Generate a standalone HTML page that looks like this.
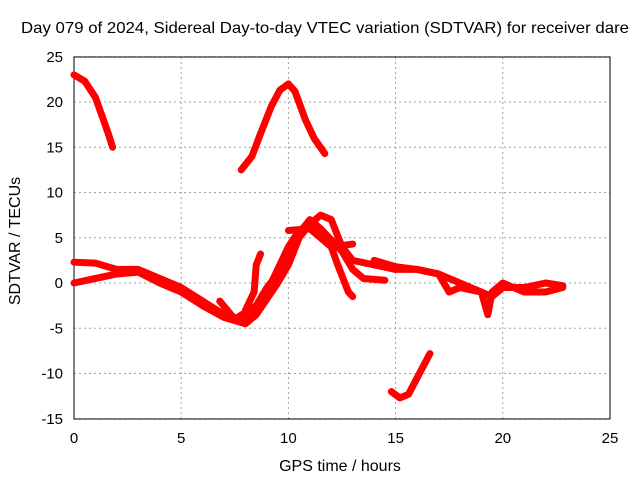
<!DOCTYPE html>
<html><head><meta charset="utf-8"><style>
body{margin:0;background:#fff;}
svg{display:block;font-family:"Liberation Sans",sans-serif;}
</style></head><body>
<svg id="c" width="640" height="480"></svg>
<script>
const xTicks=[0,5,10,15,20,25];
const yTicks=[-15,-10,-5,0,5,10,15,20,25];
const s1h=[0,0.5,1,1.3,1.6,1.8];
const s1v=[23,22.3,20.5,18.5,16.5,15];
const s2h=[7.8,8.3,8.7,9.2,9.6,10,10.3,10.8,11.2,11.7];
const s2v=[12.5,14,16.5,19.5,21.3,22,21.2,18,16,14.3];
const s3h=[14.8,15.2,15.6,16,16.6];
const s3v=[-12,-12.7,-12.3,-10.5,-7.8];
const sAh=[0,1,2,3,4,5,6,7,7.8,8.3,9,9.5,10,10.5,11,11.5,12,12.5,13,14,15,16,17,18,19,19.5,20,21,22,22.8];
const sAv=[2.3,2.2,1.5,1.5,0.5,-0.5,-2,-3.5,-4,-3.5,-1,1.5,4,5.8,6.5,7.5,7,4,2.5,2,1.5,1.5,1,0,-1,-1.5,-0.5,-0.5,0,-0.3];
const sBh=[0,1,2,3,4,5,6,7,8,8.5,9.5,10,10.5,11,11.5,12,12.3,12.8,13];
const sBv=[0,0.5,1,1.2,0,-1,-2.5,-3.8,-4.5,-3.5,0,2,5,6.5,5,4,2,-1,-1.5];
const sCh=[6.8,7.5,8.5,9,9.5,10.5,11,11.5,12.5,13,13.5,14.5];
const sCv=[-2,-4,-2.5,-0.5,1,5.5,7,6,3.5,1.5,0.5,0.3];
const sDh=[8,8.4,8.5,8.7];
const sDv=[-3,-1,2,3.2];
const sEh=[10,11,11.5,12,13];
const sEv=[5.8,6,5,4,4.3];
const sFh=[14,15,16,17,17.5,18,19,19.3,19.5,20,21,22,22.8];
const sFv=[2.5,1.8,1.5,1,-1,-0.5,-1,-3.5,-1,0,-1,-1,-0.5];
const X=h=>74+h*(536/25);
const Y=v=>283-v*(362/40);
const svg=document.getElementById('c');
const NS='http://www.w3.org/2000/svg';
function el(t,a,p){const e=document.createElementNS(NS,t);for(const k in a)e.setAttribute(k,a[k]);(p||svg).appendChild(e);return e;}
function txt(s,a){const e=el('text',a);e.textContent=s;return e;}
xTicks.forEach(t=>{const g=el('line',{x1:X(t),x2:X(t),y1:57,y2:419,stroke:'#a0a0a0','stroke-dasharray':'2,3'});


const l=txt(t,{x:X(t),y:443,'text-anchor':'middle','font-size':15});

});
yTicks.forEach(t=>{const g=el('line',{x1:74,x2:610,y1:Y(t),y2:Y(t),stroke:'#a0a0a0','stroke-dasharray':'2,3'});


const l=txt(t,{x:63,y:Y(t)+5,'text-anchor':'end','font-size':15});

});
const fr=el('rect',{x:74,y:57,width:536,height:362,fill:'none',stroke:'#000'});


const series=[[s1h,s1v],[s2h,s2v],[s3h,s3v],[sAh,sAv],[sBh,sBv],[sCh,sCv],[sDh,sDv],[sEh,sEv],[sFh,sFv]];
series.forEach((s,i)=>{const pts=s[0].map((h,j)=>X(h)+','+Y(s[1][j])).join(' ');
const p=el('polyline',{points:pts,fill:'none',stroke:'#ff0000','stroke-width':7,'stroke-linejoin':'round','stroke-linecap':'round'});

});
const t=txt('Day 079 of 2024, Sidereal Day-to-day VTEC variation (SDTVAR) for receiver dare',{x:21,y:33,'font-size':16,textLength:608,lengthAdjust:'spacingAndGlyphs'});


const xt=txt('GPS time / hours',{x:340,y:471,'text-anchor':'middle','font-size':16});


const yt=txt('SDTVAR / TECUs',{x:0,y:0,'text-anchor':'middle','font-size':16,transform:'translate(20,241) rotate(-90)'});


</script>
</body></html>
